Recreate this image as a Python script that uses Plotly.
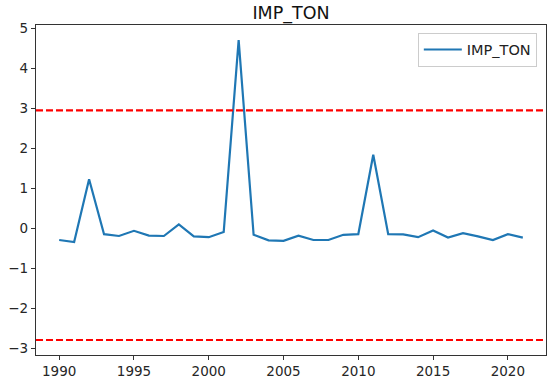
import plotly.graph_objects as go

years = list(range(1990, 2022))
imp_ton = [-0.30, -0.35, 1.22, -0.155, -0.20, -0.07, -0.19, -0.20, 0.09, -0.21,
           -0.23, -0.10, 4.70, -0.17, -0.31, -0.32, -0.19, -0.30, -0.30, -0.17,
           -0.155, 1.83, -0.155, -0.16, -0.23, -0.06, -0.24, -0.13, -0.21, -0.30,
           -0.155, -0.24]
upper_limit = 2.94
lower_limit = -2.80
x_ticks = [1990, 1995, 2000, 2005, 2010, 2015, 2020]
y_ticks = [-3, -2, -1, 0, 1, 2, 3, 4, 5]

FONT = "DejaVu Sans"

fig = go.Figure()
fig.add_trace(go.Scatter(x=years, y=imp_ton, mode="lines", name="IMP_TON",
                         line=dict(color="#1f77b4", width=2.2)))

for lim in (upper_limit, lower_limit):
    fig.add_shape(type="line", xref="paper", x0=0, x1=1, yref="y", y0=lim, y1=lim,
                  line=dict(color="#ff0000", width=2.2, dash="7px,3px"))

fig.update_layout(
    width=550, height=382,
    margin=dict(l=36, r=4, t=25, b=27),
    paper_bgcolor="white", plot_bgcolor="white",
    font=dict(family=FONT, color="#262626", size=13.5),
    title=dict(text="IMP_TON", x=0.5, xref="paper", xanchor="center",
               y=1 - 13 / 382, yref="container", yanchor="middle",
               font=dict(family=FONT, size=17.5, color="#111111")),
    showlegend=True,
    legend=dict(x=0.982, y=0.977, xanchor="right", yanchor="top",
                bgcolor="rgba(255,255,255,0.9)", bordercolor="#cccccc", borderwidth=1,
                font=dict(family=FONT, size=14.5, color="#222222"),
                itemwidth=38),
    xaxis=dict(range=[1988.45, 2022.55], tickvals=x_ticks, ticks="outside", ticklen=4,
               tickcolor="#333333", showline=True, linecolor="#333333", linewidth=1.3,
               mirror=True, showgrid=False, zeroline=False),
    yaxis=dict(range=[-3.175, 5.075], tickvals=y_ticks, ticks="outside", ticklen=4,
               tickcolor="#333333", showline=True, linecolor="#333333", linewidth=1.3,
               mirror=True, showgrid=False, zeroline=False),
)

fig.write_html("out.html", config={"displayModeBar": False},
               post_script="document.body.style.margin='0';document.body.style.padding='0';")
